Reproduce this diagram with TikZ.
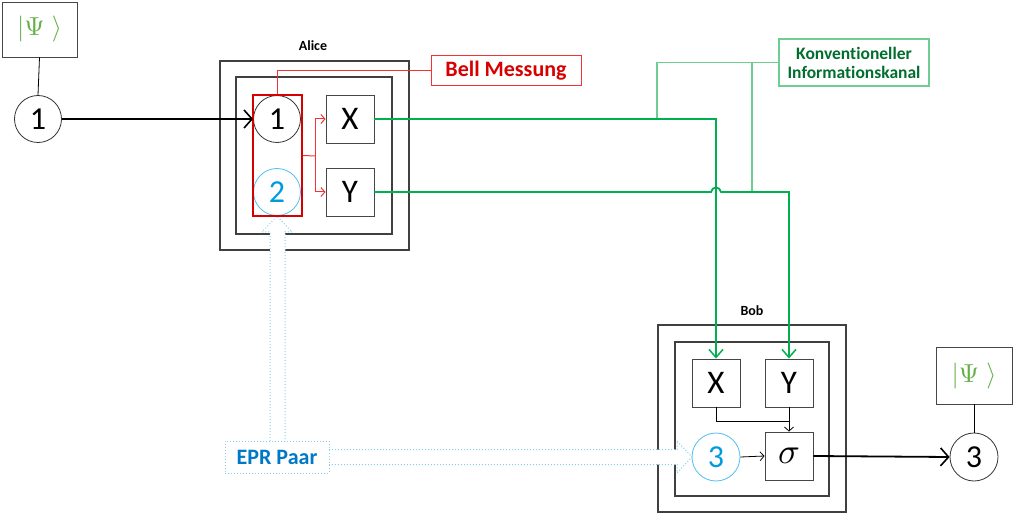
\documentclass[tikz,border=0pt]{standalone}
\usepackage{fontspec}
\setmainfont{Carlito}[Ligatures={NoCommon}]
\usetikzlibrary{arrows.meta,calc}
\definecolor{qgreen}{RGB}{0,176,80}
\definecolor{lgreen}{RGB}{110,205,145}
\definecolor{dgreen}{RGB}{0,110,45}
\definecolor{psigreen}{RGB}{100,175,70}
\definecolor{qcyan}{RGB}{0,155,222}
\definecolor{lcyan}{RGB}{80,190,240}
\definecolor{eprc}{RGB}{140,205,232}
\definecolor{eprtext}{RGB}{0,120,200}
\definecolor{bellred}{RGB}{215,0,0}
\definecolor{linered}{RGB}{245,50,50}
\definecolor{boxgray}{RGB}{70,70,70}
\tikzset{
  sq/.style={draw=boxgray,line width=0.9pt,minimum width=48pt,minimum height=48pt,inner sep=0pt,font=\fontsize{33}{35}\selectfont},
  qcirc/.style={circle,draw=black!80,line width=0.8pt,minimum size=47pt,inner sep=0pt,font=\fontsize{32}{34}\selectfont},
  ccirc/.style={qcirc,draw=lcyan,text=qcyan},
  frame/.style={draw=black!75,line width=1.2pt,inner sep=0pt},
  psibox/.style={draw=boxgray,line width=0.9pt,inner sep=0pt,text=psigreen,font=\fontsize{10}{12}\selectfont},
  thickarrow/.style={line width=1.8pt,-{Straight Barb[length=8pt,width=18pt,line width=1.6pt]}},
  grline/.style={draw=qgreen,line width=1.8pt},
  grarrow/.style={grline,-{Straight Barb[length=8pt,width=14pt,line width=1.5pt]}},
  lgline/.style={draw=lgreen,line width=1.5pt},
  redline/.style={draw=linered,line width=1pt},
  redarrow/.style={redline,-{Straight Barb[length=4pt,width=9pt]}},
  thinarrow/.style={draw=black,line width=0.8pt,-{Straight Barb[length=4pt,width=9pt]}},
  eprarrow/.style={draw=eprc,line width=1pt,dotted,fill=white},
  lbl/.style={font=\bfseries\fontsize{14}{16}\selectfont},
}
\begin{document}
\begin{tikzpicture}[x=1pt,y=-1pt]
\useasboundingbox (0,0) rectangle (1013,516);
% frames
\node[frame,minimum width=189pt,minimum height=189pt] (aliceO) at (314.5,155.5) {};
\node[frame,minimum width=156pt,minimum height=157pt] (aliceI) at (314,155.5) {};
\node[lbl] (alicelbl) at (313,46) {Alice};
\node[frame,minimum width=188pt,minimum height=187pt] (bobO) at (752,418.5) {};
\node[frame,minimum width=154pt,minimum height=154pt] (bobI) at (752,419) {};
\node[lbl] (boblbl) at (752,311) {Bob};
% EPR arrows
\filldraw[eprarrow] (270,441) -- (270,232) -- (262,232) -- (277,216) -- (292,232) -- (285,232) -- (285,441);
\filldraw[eprarrow] (329,449.5) -- (677,449.5) -- (677,441) -- (692,457) -- (677,473) -- (677,464.5) -- (329,464.5);
\node[draw=eprc,line width=1pt,dotted,minimum width=104pt,minimum height=32pt,inner sep=0pt,text=eprtext,font=\bfseries\fontsize{22}{24}\selectfont] (epr) at (277,457) {EPR Paar};
% left
\node[psibox,minimum width=75pt,minimum height=55pt] (psiL) at (39.5,29.5) {\scalebox{2.6}{$|\Psi\;\rangle$}};
\node[qcirc] (c1L) at (38,119) {1};
\draw[line width=0.8pt] (psiL.south) -- (c1L.north);
% Alice
\node[qcirc] (a1) at (277,119) {1};
\node[ccirc] (a2) at (277,192) {2};
\node[draw=bellred,line width=1.6pt,minimum width=49pt,minimum height=121pt,inner sep=0pt] (bellr) at (277.5,155.5) {};
\node[sq] (aX) at (350,119) {X};
\node[sq] (aY) at (350,192) {Y};
\coordinate (rj) at (315,156);
\draw[redline] (bellr.east) -- (rj);
\draw[redarrow] (rj) |- (aX.west);
\draw[redarrow] (rj) |- (aY.west);
\node[draw=linered,line width=1pt,minimum width=150pt,minimum height=30pt,inner sep=0pt,text=bellred,font=\bfseries\fontsize{22}{24}\selectfont] (bell) at (506,71) {Bell Messung};
\draw[redline] (bellr.north) |- (bell.west);
\draw[thickarrow] (c1L.east) -- (a1.west);
% Bob
\node[sq] (bX) at (716,383) {X};
\node[sq] (bY) at (789,383) {Y};
\node[ccirc,minimum size=48pt] (b3) at (716,457) {3};
\node[sq,font=\fontsize{10}{12}\selectfont] (sig) at (789,456) {\scalebox{3.6}{$\sigma$}};
\coordinate (bj) at (789,421);
\draw[line width=0.8pt] (bX.south) |- (bj);
\draw[thinarrow] (bY.south) -- (sig.north);
\draw[thinarrow] (b3.east) -- (sig.west);
% right
\node[psibox,minimum width=76pt,minimum height=57pt] (psiR) at (974,375.5) {\scalebox{2.6}{$|\Psi\;\rangle$}};
\node[qcirc,minimum size=48pt] (c3R) at (974,457) {3};
\draw[line width=0.8pt] (psiR.south) -- (c3R.north);
\draw[thickarrow] (sig.east) -- (c3R.west);
% classical channel
\node[draw=lgreen,line width=1.5pt,minimum width=150pt,minimum height=47pt,inner sep=0pt,align=center,text=dgreen,font=\bfseries\fontsize{17.5}{19}\selectfont] (konv) at (854,62.5) {Konventioneller\\Informationskanal};
\coordinate (k1) at (657,119);
\coordinate (k2) at (752,192);
\draw[lgline] (konv.west) -| (k1);
\draw[lgline] (k2) |- (konv.west);
\draw[grarrow] (aX.east) -| (bX.north);
\draw[grarrow] (aY.east) -- (711,192) .. controls (712,186) and (720,186) .. (721,192) -| (bY.north);
\end{tikzpicture}
\end{document}
